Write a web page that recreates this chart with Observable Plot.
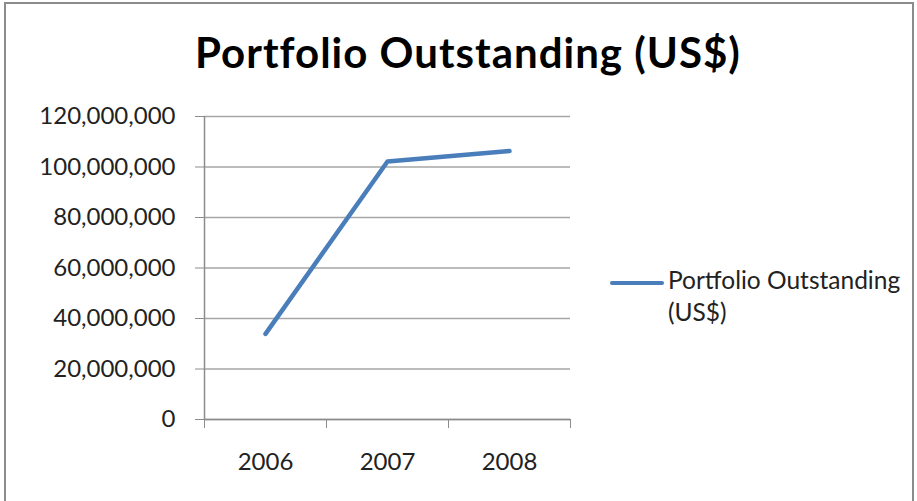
<!DOCTYPE html>
<html>
<head>
<meta charset="utf-8">
<script src="https://cdn.jsdelivr.net/npm/d3@7"></script>
<script src="https://cdn.jsdelivr.net/npm/@observablehq/plot@0.6"></script>
<style>
  html, body { margin: 0; padding: 0; background: #fff; }
  #wrap { position: relative; width: 917px; height: 501px; overflow: hidden; font-family: Lato, sans-serif; }
  #frame { position: absolute; left: 4px; top: 2px; width: 906px; height: 520px; border: 2px solid #8c8c8c; }
  #title { position: absolute; left: 0; width: 936px; top: 27px; text-align: center; font-weight: bold; font-size: 42px; letter-spacing: 1px; color: #000; line-height: 50px; }
  #chart { position: absolute; left: 0; top: 100px; }
  #legend { position: absolute; left: 610px; top: 264px; font-size: 24.5px; color: #222; line-height: 32px; }
  #legend .sw { display: inline-block; width: 54px; height: 4px; background: #4a7ebb; vertical-align: middle; margin-right: 4px; border-radius: 2px; }
  #legend .l2 { padding-left: 58px; }
</style>
</head>
<body>
<div id="wrap">
  <div id="frame"></div>
  <div id="title"></div>
  <div id="chart"></div>
  <div id="legend"></div>
</div>
<script>
const title = "Portfolio Outstanding (US$)";
const seriesName = "Portfolio Outstanding (US$)";
const years = [2006, 2007, 2008];
const values = [33900000, 102200000, 106300000];
const yTicks = [0, 20000000, 40000000, 60000000, 80000000, 100000000, 120000000];

const data = years.map((y, i) => ({year: y, value: values[i]}));
const bounds = years.map(y => y - 0.5).concat([years[years.length - 1] + 0.5]);

document.getElementById("title").textContent = title;
const leg = document.getElementById("legend");
leg.innerHTML = '<div><span class="sw"></span>Portfolio Outstanding</div><div class="l2">(US$)</div>';

const fmt = d3.format(",");
const plot = Plot.plot({
  width: 917,
  height: 401,
  marginLeft: 204,
  marginRight: 347,
  marginTop: 16,
  marginBottom: 82,
  style: {fontFamily: "Lato, sans-serif", fontSize: "24px", color: "#222", background: "transparent"},
  x: {type: "linear", domain: [bounds[0], bounds[bounds.length - 1]]},
  y: {domain: [0, 120000000]},
  marks: [
    Plot.gridY(yTicks, {stroke: "#a6a6a6", strokeOpacity: 1, strokeWidth: 1.5}),
    Plot.ruleX([bounds[0]], {stroke: "#8c8c8c", strokeWidth: 1.5}),
    Plot.ruleY([0], {stroke: "#8c8c8c", strokeWidth: 1.5}),
    Plot.axisY({ticks: yTicks, tickFormat: fmt, tickSize: 9, tickPadding: 20, label: null, stroke: "#8c8c8c", fill: "#222"}),
    Plot.axisX({ticks: bounds, tickFormat: () => "", tickSize: 9, label: null, stroke: "#8c8c8c"}),
    Plot.axisX({ticks: years, tickFormat: d => String(d), tickSize: 0, tickPadding: 33, label: null, fill: "#222"}),
    Plot.line(data, {x: "year", y: "value", stroke: "#4a7ebb", strokeWidth: 4.5, strokeLinecap: "round", strokeLinejoin: "round"})
  ]
});
document.getElementById("chart").appendChild(plot);
</script>
</body>
</html>
